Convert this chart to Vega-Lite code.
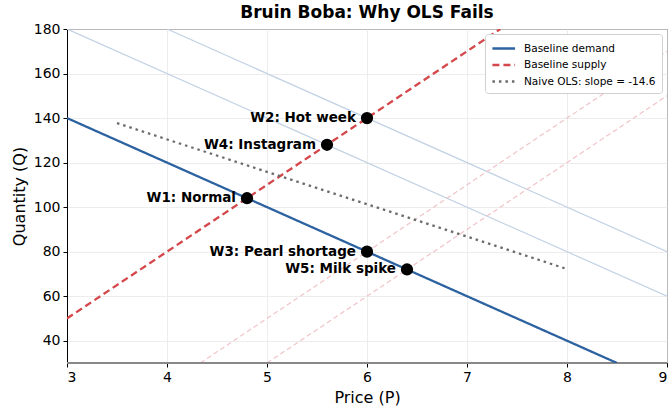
{
  "$schema": "https://vega.github.io/schema/vega-lite/v6.json",
  "autosize": "none",
  "width": 600,
  "height": 334,
  "padding": {"left": 67, "top": 29, "right": 3, "bottom": 45},
  "background": "white",
  "title": {"text": "Bruin Boba: Why OLS Fails", "font": "DejaVu Sans", "fontSize": 17, "fontWeight": "bold", "color": "black", "offset": 0, "anchor": "middle"},
  "config": {
    "font": "DejaVu Sans",
    "view": {"stroke": "black", "strokeWidth": 1},
    "axis": {"labelFont": "DejaVu Sans", "titleFont": "DejaVu Sans", "labelFontSize": 14, "titleFontSize": 16, "titleFontWeight": "normal", "labelColor": "black", "titleColor": "black", "domainColor": "black", "tickColor": "black", "tickSize": 4, "labelPadding": 3, "gridColor": "#e8e8e8", "gridWidth": 0.8}
  },
  "datasets": {
    "main": [
      {"series": "Baseline demand", "P": 3, "Q": 140},
      {"series": "Baseline demand", "P": 8.5, "Q": 30},
      {"series": "Baseline supply", "P": 3, "Q": 50},
      {"series": "Baseline supply", "P": 7.3333, "Q": 180},
      {"series": "Naive OLS: slope = -14.6", "P": 3.5, "Q": 137.7},
      {"series": "Naive OLS: slope = -14.6", "P": 8, "Q": 72.2}
    ],
    "shiftD": [
      {"id": "d1", "P": 3, "Q": 180},
      {"id": "d1", "P": 9, "Q": 60},
      {"id": "d2", "P": 4, "Q": 180},
      {"id": "d2", "P": 9, "Q": 80}
    ],
    "shiftS": [
      {"id": "s1", "P": 4.3333, "Q": 30},
      {"id": "s1", "P": 9, "Q": 170},
      {"id": "s2", "P": 5, "Q": 30},
      {"id": "s2", "P": 9, "Q": 150}
    ],
    "pts": [
      {"label": "W1: Normal", "P": 4.8, "Q": 104},
      {"label": "W2: Hot week", "P": 6, "Q": 140},
      {"label": "W3: Pearl shortage", "P": 6, "Q": 80},
      {"label": "W4: Instagram", "P": 5.6, "Q": 128},
      {"label": "W5: Milk spike", "P": 6.4, "Q": 72}
    ]
  },
  "layer": [
    {
      "data": {"name": "shiftD"},
      "mark": {"type": "line", "color": "#c2d2e4", "strokeWidth": 1.2, "clip": true},
      "encoding": {
        "x": {"field": "P", "type": "quantitative", "scale": {"domain": [3, 9], "nice": false, "zero": false}, "axis": {"title": "Price (P)", "values": [3, 4, 5, 6, 7, 8, 9], "format": "d", "titlePadding": 5}},
        "y": {"field": "Q", "type": "quantitative", "scale": {"domain": [30, 180], "nice": false, "zero": false}, "axis": {"title": "Quantity (Q)", "values": [40, 60, 80, 100, 120, 140, 160, 180], "titlePadding": 6}},
        "detail": {"field": "id"}
      }
    },
    {
      "data": {"name": "shiftS"},
      "mark": {"type": "line", "color": "#f0c4c8", "strokeWidth": 1.2, "strokeDash": [5, 3], "clip": true},
      "encoding": {
        "x": {"field": "P", "type": "quantitative"},
        "y": {"field": "Q", "type": "quantitative"},
        "detail": {"field": "id"}
      }
    },
    {
      "data": {"values": [{"Q": 30}]},
      "mark": {"type": "rule", "color": "#888888", "strokeWidth": 2},
      "encoding": {"y": {"field": "Q", "type": "quantitative"}}
    },
    {
      "data": {"name": "main"},
      "mark": {"type": "line", "clip": true, "strokeCap": "butt"},
      "encoding": {
        "x": {"field": "P", "type": "quantitative"},
        "y": {"field": "Q", "type": "quantitative"},
        "color": {"field": "series", "type": "nominal", "scale": {"domain": ["Baseline demand", "Baseline supply", "Naive OLS: slope = -14.6"], "range": ["#2d62a0", "#d4474a", "#6b6b6b"]}, "legend": {"title": null, "orient": "top-right", "offset": 5, "symbolType": "M-1,0H2.2", "symbolSize": 200, "symbolStrokeWidth": 2.5, "labelFontSize": 10.5, "labelFont": "DejaVu Sans", "labelColor": "black", "fillColor": "white", "strokeColor": "#d0d0d0", "padding": 6, "cornerRadius": 3, "rowPadding": 2.5, "labelOffset": 16}},
        "strokeDash": {"field": "series", "type": "nominal", "scale": {"domain": ["Baseline demand", "Baseline supply", "Naive OLS: slope = -14.6"], "range": [[1, 0], [7, 4], [2.5, 4]]}, "legend": {"title": null}},
        "strokeWidth": {"field": "series", "type": "nominal", "scale": {"domain": ["Baseline demand", "Baseline supply", "Naive OLS: slope = -14.6"], "range": [2.3, 2.3, 3]}, "legend": null}
      }
    },
    {
      "data": {"name": "pts"},
      "mark": {"type": "circle", "color": "black", "opacity": 1, "size": 150},
      "encoding": {
        "x": {"field": "P", "type": "quantitative"},
        "y": {"field": "Q", "type": "quantitative"}
      }
    },
    {
      "data": {"name": "pts"},
      "mark": {"type": "text", "align": "right", "baseline": "middle", "dx": -11, "fontWeight": "bold", "fontSize": 13.5, "font": "DejaVu Sans", "color": "black"},
      "encoding": {
        "x": {"field": "P", "type": "quantitative"},
        "y": {"field": "Q", "type": "quantitative"},
        "text": {"field": "label"}
      }
    }
  ]
}
